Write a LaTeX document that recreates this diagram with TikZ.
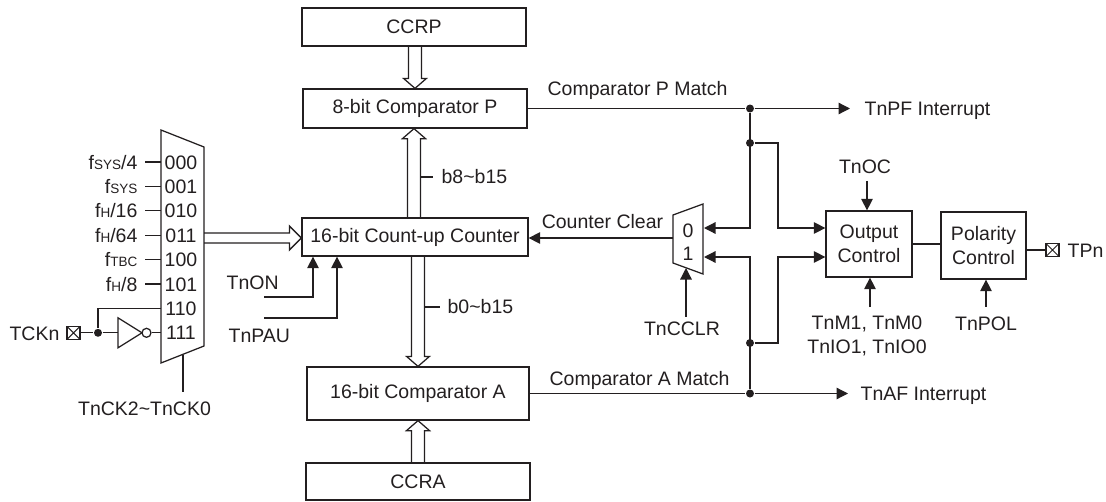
\documentclass[tikz,border=0pt]{standalone}
\usepackage{fontspec}
\setmainfont{Liberation Sans}
\usetikzlibrary{arrows.meta,calc}
\definecolor{ink}{HTML}{231F20}
\newcommand{\lsub}[1]{{\fontsize{13.5}{14}\selectfont #1}}
\newcommand{\busV}[4]{% #1 dx, #2 from, #3 to, #4 dir (1 up, -1 down)
  \draw[bus] let \p1=(#2), \p2=(#3) in
   ({\x1+(#1)-6.5pt},\y1) -- ({\x1+(#1)-6.5pt},{\y2-(#4)*10pt}) -- ({\x1+(#1)-11.5pt},{\y2-(#4)*10pt})
   -- ({\x1+(#1)},\y2) -- ({\x1+(#1)+11.5pt},{\y2-(#4)*10pt}) -- ({\x1+(#1)+6.5pt},{\y2-(#4)*10pt})
   -- ({\x1+(#1)+6.5pt},\y1);}
\begin{document}
\begin{tikzpicture}[x=1pt,y=-1pt,line width=1.25pt,color=ink,
  font=\fontsize{19.5}{24}\selectfont,
  blk/.style={draw,inner sep=0pt,align=center},
  sig/.style={-{Triangle[length=11.5pt,width=11.5pt]}},
  wire/.style={line join=miter},
  jdot/.style={circle,fill,inner sep=0pt,minimum size=8pt},
  lbl/.style={inner sep=0pt},
  pinbox/.style={draw,line width=1.2pt,minimum size=13pt,inner sep=0pt,
    path picture={\draw[line width=1pt] (path picture bounding box.north west)--(path picture bounding box.south east)
      (path picture bounding box.north east)--(path picture bounding box.south west);}},
  bus/.style={line join=miter}]
\useasboundingbox (0,0) rectangle (1106,501);

% main blocks
\node[blk,minimum width=224pt,minimum height=38pt] (ccrp) at (414,27) {CCRP};
\node[blk,minimum width=224pt,minimum height=39pt] (cmpp) at (415,108.5) {8-bit Comparator P};
\node[blk,minimum width=226pt,minimum height=38pt] (cnt) at (415,237) {16-bit Count-up Counter};
\node[blk,minimum width=222pt,minimum height=53pt] (cmpa) at (418,393.5) {16-bit Comparator A};
\node[blk,minimum width=224pt,minimum height=37pt] (ccra) at (418,481.5) {CCRA};

% buses
\busV{1pt}{ccrp.south}{cmpp.north}{-1}
\busV{-1pt}{cnt.north}{cmpp.south}{1}
\busV{3pt}{cnt.south}{cmpa.north}{-1}
\busV{0pt}{ccra.north}{cmpa.south}{1}

% clock mux
\coordinate (mTL) at (161,130);
\coordinate (mTR) at (204,147);
\coordinate (mBR) at (204,346);
\coordinate (mBL) at (161,363);
\draw[wire] (mTL)--(mTR)--(mBR)--(mBL)--cycle;

\foreach \k/\y/\c in {0/162/000,1/186.4/001,2/210.8/010,3/235.2/011,4/259.6/100,5/284/101,6/308.4/110,7/332.8/111}{
  \node[lbl,anchor=base] (c\k) at (181,\y+7) {\c};
  \coordinate (i\k) at (161,\y);
}
\node[lbl,anchor=base east] (s0) at (138,169) {f\lsub{SYS}/4};
\node[lbl,anchor=base east] (s1) at (138,193.4) {f\lsub{SYS}};
\node[lbl,anchor=base east] (s2) at (138,217.8) {f\lsub{H}/16};
\node[lbl,anchor=base east] (s3) at (138,242.2) {f\lsub{H}/64};
\node[lbl,anchor=base east] (s4) at (138,266.6) {f\lsub{TBC}};
\node[lbl,anchor=base east] (s5) at (138,291) {f\lsub{H}/8};
\foreach \k in {0,...,5}{
  \draw ($(i\k)+(-16,0)$) -- (i\k);
}

% TCKn input
\node[lbl,anchor=base east] (tckn) at (60,340) {TCKn};
\node[pinbox] (tpin) at (73.5,332.8) {};
\node[jdot] (tdot) at (98,332.8) {};
\coordinate (invin) at (118,332.8);
\draw[wire] (118,317.8) -- (142,332.8) -- (118,347.8) -- cycle;
\node[circle,draw,inner sep=0pt,minimum size=9pt] (bub) at (146.5,332.8) {};
\draw (tpin.east) -- (tdot) -- (invin);
\draw (bub.east) -- (i7);
\draw (tdot) |- (i6);

% select
\coordinate (msel) at (183,354.5);
\node[lbl,anchor=base] (selL) at (144.5,415) {TnCK2\textasciitilde TnCK0};
\draw (msel) -- (183,392);

% mux -> counter bus
\coordinate (muxout) at (204,238);
\draw[bus] let \p1=(muxout), \p2=(cnt.west) in
  (\x1,{\y1+5pt}) -- ({\x2-12pt},{\y1+5pt}) -- ({\x2-12pt},{\y1+12pt}) -- (\x2,\y1)
  -- ({\x2-12pt},{\y1-12pt}) -- ({\x2-12pt},{\y1-5pt}) -- (\x1,{\y1-5pt});

% TnON / TnPAU
\node[lbl,anchor=base west] (tnon) at (226,289) {TnON};
\node[lbl,anchor=base west] (tnpau) at (228,342) {TnPAU};
\draw[sig] (264,297) -| ([xshift=-102pt]cnt.south);
\draw[sig] (264,318) -| ([xshift=-78pt]cnt.south);

% bit labels
\draw (420.5,177) -- (433,177) node[lbl,anchor=west,xshift=8pt] (b8) {b8\textasciitilde b15};
\draw (424.5,307) -- (440,307) node[lbl,anchor=west,xshift=7pt] (b0) {b0\textasciitilde b15};

% comparator outputs
\node[jdot] (pj) at (750,108.5) {};
\node[jdot] (pj2) at (750,143) {};
\node[jdot] (aj) at (750,393.5) {};
\node[jdot] (aj2) at (750,343) {};
\node[lbl,anchor=base west] (pm) at (547,95) {Comparator P Match};
\node[lbl,anchor=base west] (am) at (549,385) {Comparator A Match};
\node[lbl,anchor=base west] (pf) at (864,115.5) {TnPF Interrupt};
\node[lbl,anchor=base west] (af) at (860,400.5) {TnAF Interrupt};
\draw (cmpp.east) -- (pj);
\draw (cmpa.east) -- (aj);
\draw[sig] (pj) -- ($(pj -| pf.west)+(-14,0)$);
\draw[sig] (aj) -- ($(aj -| af.west)+(-12,0)$);

% counter-clear mux
\draw[wire] (673,215) -- (703,204) -- (703,274) -- (673,263) -- cycle;
\node[lbl,anchor=base] (z0) at (688,237) {0};
\node[lbl,anchor=base] (z1) at (688,260) {1};
\coordinate (m0) at (704,228);
\coordinate (m1) at (704,257);
\coordinate (mout) at (673,238);
\coordinate (msel2) at (686,268);
\node[lbl,anchor=base] (ccl) at (602.5,228) {Counter Clear};
\draw[sig] (mout) -- (cnt.east |- mout);
\node[lbl,anchor=base] (cclr) at (682,335) {TnCCLR};
\draw[sig] ([xshift=4pt,yshift=4pt]cclr.north) -- (msel2);

% output control / polarity
\node[blk,minimum width=86pt,minimum height=66pt] (oc) at (869,244) {Output\\Control};
\node[blk,minimum width=85pt,minimum height=67pt] (pol) at (983.5,245.5) {Polarity\\Control};
\draw (oc.east) -- (oc.east -| pol.west);
\node[pinbox] (tpn) at (1052.5,250) {};
\node[lbl,anchor=base west] (tpnL) at (1067,257) {TPn};
\draw (pol.east |- tpn) -- (tpn.west);

\draw[sig] (pj) |- (m0);
\draw[sig] (aj) |- (m1);
\draw[sig] (pj2) -- ++(28,0) |- ([yshift=16pt]oc.west);
\draw[sig] (aj2) -- ++(28,0) |- ([yshift=-13pt]oc.west);

\node[lbl,anchor=base] (tnoc) at (865,173) {TnOC};
\draw[sig] ([xshift=2pt,yshift=-7pt]tnoc.south) -- ([xshift=-2pt]oc.north);
\node[lbl,align=center] (tnm) at (867,336) {TnM1, TnM0\\TnIO1, TnIO0};
\draw[sig] (870,307) -- (870,0 |- oc.south);
\node[lbl,anchor=base] (tnpol) at (986,330) {TnPOL};
\draw[sig] ([yshift=9pt]tnpol.north) -- (tnpol.north |- pol.south);
\end{tikzpicture}
\end{document}
